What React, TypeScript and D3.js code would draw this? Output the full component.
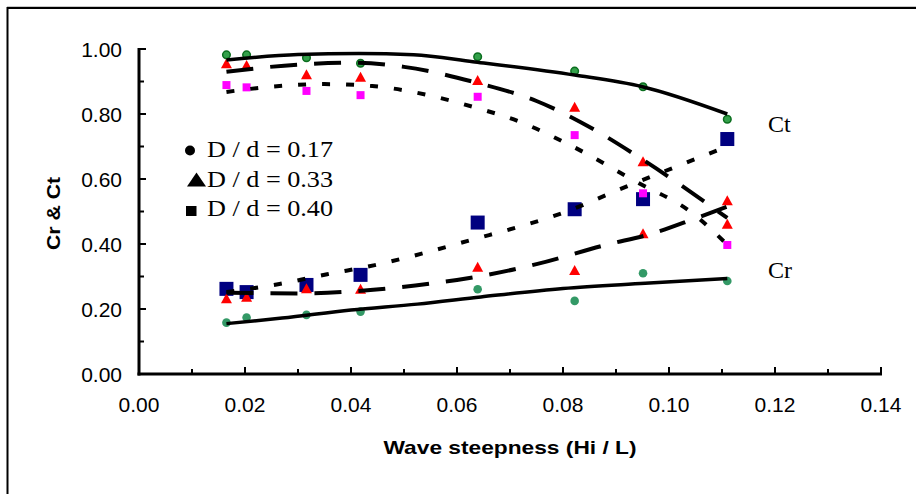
import React from "react";
import * as d3 from "d3";

// ---- data ----
const steepness = [0.0165, 0.0203, 0.0316, 0.0418, 0.0639, 0.0822, 0.0951, 0.111];
const ct017 = [0.982, 0.982, 0.973, 0.956, 0.976, 0.932, 0.884, 0.784];
const ct033 = [0.956, 0.951, 0.922, 0.915, 0.905, 0.822, 0.655, 0.462];
const ct040 = [0.889, 0.882, 0.871, 0.858, 0.853, 0.735, 0.556, 0.397];
const cr017 = [0.158, 0.174, 0.182, 0.192, 0.261, 0.225, 0.31, 0.286];
const cr033 = [0.233, 0.238, 0.264, 0.262, 0.33, 0.32, 0.433, 0.535];
const cr040 = [0.262, 0.252, 0.274, 0.305, 0.466, 0.507, 0.538, 0.723];

// trend curves
const ct017TrendX = [0.0165, 0.03, 0.0415, 0.0518, 0.063, 0.0822, 0.095, 0.111];
const ct017TrendY = [0.966, 0.983, 0.986, 0.982, 0.961, 0.92, 0.884, 0.8];
const ct033TrendX = [0.0165, 0.03, 0.04, 0.05, 0.064, 0.075, 0.085, 0.095, 0.111];
const ct033TrendY = [0.93, 0.952, 0.958, 0.945, 0.895, 0.84, 0.76, 0.66, 0.48];
const ct040TrendX = [0.0165, 0.025, 0.035, 0.044, 0.054, 0.063, 0.072, 0.081, 0.094, 0.104, 0.111];
const ct040TrendY = [0.868, 0.884, 0.892, 0.886, 0.86, 0.822, 0.775, 0.707, 0.59, 0.5, 0.398];
const cr017TrendX = [0.0165, 0.027, 0.04, 0.0525, 0.0645, 0.08, 0.0955, 0.111];
const cr017TrendY = [0.155, 0.172, 0.197, 0.215, 0.237, 0.263, 0.279, 0.294];
const cr033TrendX = [0.0165, 0.03, 0.042, 0.055, 0.064, 0.075, 0.088, 0.097, 0.105, 0.111];
const cr033TrendY = [0.25, 0.248, 0.256, 0.278, 0.3, 0.338, 0.397, 0.433, 0.479, 0.515];
const cr040TrendX = [0.0165, 0.0265, 0.0355, 0.0445, 0.0535, 0.063, 0.0717, 0.0807, 0.0895, 0.111];
const cr040TrendY = [0.252, 0.277, 0.307, 0.335, 0.371, 0.414, 0.453, 0.5, 0.56, 0.7];

const xTicks = [0, 0.02, 0.04, 0.06, 0.08, 0.1, 0.12, 0.14];
const yTicks = [0, 0.2, 0.4, 0.6, 0.8, 1.0];
const legendLabels = ["D / d = 0.17", "D / d = 0.33", "D / d = 0.40"];

export default function App() {
  const x = d3.scaleLinear().domain([0, 0.14]).range([139, 881]);
  const y = d3.scaleLinear().domain([0, 1]).range([374, 49]);

  const line = (xs: number[], ys: number[]) =>
    d3
      .line<number>()
      .x((_, i) => x(xs[i]))
      .y((d) => y(d))
      .curve(d3.curveMonotoneX)(ys) || "";

  const minorX = d3.range(0, 15).map((i) => i * 0.01);
  const minorY = d3.range(0, 11).map((i) => i * 0.1);

  const tri = (cx: number, cy: number, w: number, h: number) =>
    `M${cx - w / 2},${cy + h / 2}L${cx},${cy - h / 2}L${cx + w / 2},${cy + h / 2}Z`;

  const numFont = "'Liberation Sans', Arial, sans-serif";
  const serif = "'Liberation Serif', 'Times New Roman', serif";

  return (
    <svg
      width={916}
      height={494}
      style={{ position: "absolute", left: 0, top: 0, background: "#fff" }}
    >
      {/* frame */}
      <line x1={7} y1={6.5} x2={916} y2={6.5} stroke="#c8c8c8" strokeWidth={1} />
      <path d="M7.5,494V8H916" fill="none" stroke="#000" strokeWidth={2} />

      {/* markers */}
      {steepness.map((s, i) => (
        <g key={"m" + i}>
          <rect x={x(s) - 7} y={y(cr040[i]) - 7} width={14} height={14} fill="#000080" />
          <rect x={x(s) - 4} y={y(ct040[i]) - 4} width={8} height={8} fill="#ff00ff" />
          <path d={tri(x(s), y(ct033[i]), 11, 10)} fill="#ff0000" />
          <path d={tri(x(s), y(cr033[i]), 11, 10)} fill="#ff0000" />
          <circle cx={x(s)} cy={y(cr017[i])} r={4.3} fill="#339966" />
          <circle cx={x(s)} cy={y(ct017[i])} r={3.8} fill="#33a04a" stroke="#0b6e1f" strokeWidth={1.5} />
        </g>
      ))}

      {/* trend lines */}
      <g fill="none" stroke="#000">
        <path d={line(ct017TrendX, ct017TrendY)} strokeWidth={3.5} />
        <path d={line(cr017TrendX, cr017TrendY)} strokeWidth={3.5} />
        <path d={line(ct033TrendX, ct033TrendY)} strokeWidth={4} strokeDasharray="27 17" />
        <path d={line(cr033TrendX, cr033TrendY)} strokeWidth={4} strokeDasharray="27 17" />
        <path d={line(ct040TrendX, ct040TrendY)} strokeWidth={4} strokeDasharray="8 16" />
        <path d={line(cr040TrendX, cr040TrendY)} strokeWidth={4} strokeDasharray="8 16" />
      </g>

      {/* axes */}
      <g stroke="#000">
        <line x1={x(0)} y1={y(1) - 1} x2={x(0)} y2={y(0) + 1.5} strokeWidth={3} />
        <line x1={x(0) - 1.5} y1={y(0)} x2={x(0.14) + 1} y2={y(0)} strokeWidth={3} />
        {minorX.map((t, i) => (
          <line key={"tx" + i} x1={x(t)} x2={x(t)} y1={y(0)} y2={y(0) - (i % 2 === 0 ? 7 : 5)} strokeWidth={2} />
        ))}
        {minorY.map((t, i) => (
          <line key={"ty" + i} x1={x(0)} x2={x(0) + (i % 2 === 0 ? 7 : 5)} y1={y(t)} y2={y(t)} strokeWidth={2} />
        ))}
      </g>

      {/* tick labels */}
      <g fontFamily={numFont} fontSize={21} fill="#000">
        {xTicks.map((t) => (
          <text key={"xl" + t} x={x(t)} y={412} textAnchor="middle">
            {t.toFixed(2)}
          </text>
        ))}
        {yTicks.map((t) => (
          <text key={"yl" + t} x={122} y={y(t) + 7.5} textAnchor="end">
            {t.toFixed(2)}
          </text>
        ))}
      </g>

      {/* axis titles */}
      <text
        x={383.5}
        y={454}
        fontFamily={numFont}
        fontWeight="bold"
        fontSize={19}
        textLength={253}
        lengthAdjust="spacingAndGlyphs"
      >
        Wave steepness (Hi / L)
      </text>
      <text
        transform="translate(60,250) rotate(-90)"
        x={0}
        y={0}
        fontFamily={numFont}
        fontWeight="bold"
        fontSize={19}
        textLength={73}
        lengthAdjust="spacingAndGlyphs"
      >
        Cr &amp; Ct
      </text>

      {/* legend */}
      <circle cx={190} cy={150.5} r={5} fill="#000" />
      <path d={tri(196.5, 179.5, 19, 14)} fill="#000" />
      <rect x={186} y={206} width={10.5} height={10} fill="#000" />
      <g fontFamily={serif} fontSize={24} fill="#000">
        {legendLabels.map((l, i) => (
          <text key={l} x={207} y={157 + i * 29.5} textLength={126} lengthAdjust="spacingAndGlyphs">
            {l}
          </text>
        ))}
        <text x={768} y={132}>Ct</text>
        <text x={768} y={278}>Cr</text>
      </g>
    </svg>
  );
}
